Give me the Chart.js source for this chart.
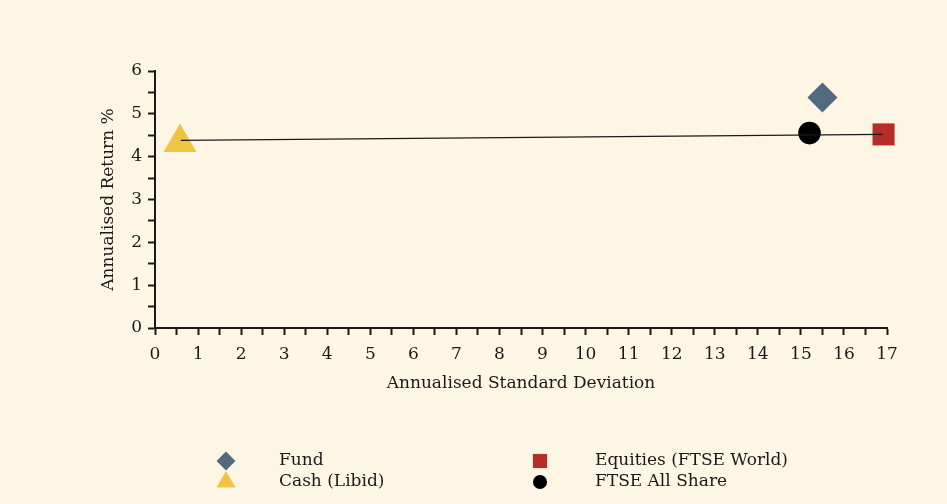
<!DOCTYPE html>
<html>
<head>
<meta charset="utf-8">
<script src="https://cdn.jsdelivr.net/npm/chart.js@4.4.1/dist/chart.umd.min.js"></script>
<style>
  html, body { margin: 0; padding: 0; background: #fdf6e5; }
  #wrap { position: relative; width: 947px; height: 504px; }
</style>
</head>
<body>
<div id="wrap"><canvas id="myChart" width="947" height="504"></canvas></div>
<script>
// risk (x) / return (y) points
const fundPoint = [{ x: 15.5, y: 5.38 }];
const equitiesPoint = [{ x: 16.92, y: 4.52 }];
const cashPoint = [{ x: 0.58, y: 4.33 }];
const allSharePoint = [{ x: 15.2, y: 4.55 }];
const lineFromCash = [{ x: 0.6, y: 4.38 }, { x: 16.9, y: 4.52 }];

const xTicks = [0, 17];
const yTicks = [0, 6];

const fontFamily = '"DejaVu Serif", serif';
const ink = '#1a1a1a';

// legend laid out in two columns like the original
const legendPlugin = {
    id: 'twoColLegend',
    afterDraw: function (chart) {
        const ctx = chart.ctx;
        const cols = [226, 540];
        const textCols = [279, 595];
        const rows = [461, 482];
        const order = [[0, 0], [1, 0], [0, 1], [1, 1]]; // fund, equities, cash, ftse
        ctx.save();
        ctx.font = '17px ' + fontFamily;
        ctx.textBaseline = 'middle';
        for (let i = 0; i < 4; i++) {
            const ds = chart.data.datasets[i];
            const c = order[i][0], r = order[i][1];
            ctx.fillStyle = ds.backgroundColor;
            ctx.strokeStyle = ds.backgroundColor;
            Chart.helpers.drawPoint(ctx, {
                pointStyle: ds.pointStyle,
                radius: ds.legendRadius,
                borderWidth: 0
            }, cols[c], rows[r]);
            ctx.fillStyle = ink;
            ctx.fillText(ds.label, textCols[c], rows[r]);
        }
        ctx.restore();
    }
};

const data = {
    datasets: [
        {
            label: 'Fund',
            data: fundPoint,
            pointStyle: 'rectRot',
            pointRadius: 15,
            legendRadius: 9.5,
            backgroundColor: '#526a80',
            borderWidth: 0,
            showLine: false,
            clip: false,
            order: 2
        },
        {
            label: 'Equities (FTSE World)',
            data: equitiesPoint,
            pointStyle: 'rect',
            pointRadius: 15.6,
            legendRadius: 10,
            backgroundColor: '#b52d25',
            borderWidth: 0,
            showLine: false,
            clip: false,
            order: 2
        },
        {
            label: 'Cash (Libid)',
            data: cashPoint,
            pointStyle: 'triangle',
            pointRadius: 19,
            legendRadius: 11,
            backgroundColor: '#f0c441',
            borderWidth: 0,
            showLine: false,
            clip: false,
            order: 2
        },
        {
            label: 'FTSE All Share',
            data: allSharePoint,
            pointStyle: 'circle',
            pointRadius: 11.3,
            legendRadius: 7,
            backgroundColor: '#000000',
            borderWidth: 0,
            showLine: false,
            clip: false,
            order: 2
        },
        {
            label: 'line',
            data: lineFromCash,
            showLine: true,
            pointRadius: 0,
            borderColor: '#1a1a1a',
            borderWidth: 1.3,
            clip: false,
            order: 1
        }
    ]
};

const config = {
    type: 'scatter',
    data: data,
    options: {
        responsive: false,
        animation: false,
        events: [],
        layout: {
            padding: { left: 98, right: 60, top: 71, bottom: 106 }
        },
        plugins: {
            legend: { display: false },
            tooltip: { enabled: false }
        },
        scales: {
            x: {
                type: 'linear',
                min: xTicks[0],
                max: xTicks[1],
                afterFit: function (scale) { scale.height = 70; },
                grid: {
                    drawOnChartArea: false,
                    drawTicks: true,
                    tickLength: 7,
                    tickWidth: 2,
                    tickColor: ink
                },
                border: { color: ink, width: 2 },
                ticks: {
                    stepSize: 0.5,
                    autoSkip: false,
                    maxRotation: 0,
                    padding: 9,
                    color: ink,
                    font: { family: fontFamily, size: 17 },
                    callback: function (v) { return Number.isInteger(v) ? String(v) : ''; }
                },
                title: {
                    display: true,
                    text: 'Annualised Standard Deviation',
                    color: ink,
                    font: { family: fontFamily, size: 17 },
                    padding: { top: 8 }
                }
            },
            y: {
                type: 'linear',
                min: yTicks[0],
                max: yTicks[1],
                afterFit: function (scale) { scale.width = 57; },
                grid: {
                    drawOnChartArea: false,
                    drawTicks: true,
                    tickLength: 7,
                    tickWidth: 2,
                    tickColor: ink
                },
                border: { color: ink, width: 2 },
                ticks: {
                    stepSize: 0.5,
                    autoSkip: false,
                    padding: 6,
                    color: ink,
                    font: { family: fontFamily, size: 17 },
                    callback: function (v) { return Number.isInteger(v) ? String(v) : ''; }
                },
                title: {
                    display: true,
                    text: 'Annualised Return %',
                    color: ink,
                    font: { family: fontFamily, size: 17 },
                    padding: { top: 0, bottom: 0 }
                }
            }
        }
    },
    plugins: [legendPlugin]
};

const myChart = new Chart(
    document.getElementById('myChart'),
    config
);
</script>
</body>
</html>
